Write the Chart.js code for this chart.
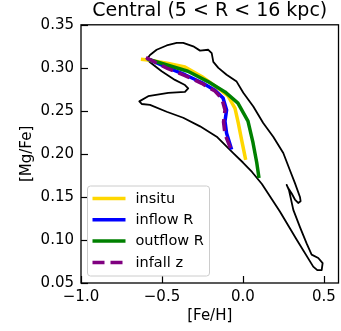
<!DOCTYPE html>
<html>
<head>
<meta charset="utf-8">
<script src="https://cdn.jsdelivr.net/npm/chart.js@4/dist/chart.umd.min.js"></script>
<style>
  body { margin: 0; background: #fff; }
  canvas { display: block; }
</style>
</head>
<body>
<canvas id="myChart" width="341" height="331"></canvas>
<script>
// density contour (black outline)
const contourFeH = [-0.594, -0.574, -0.533, -0.471, -0.409, -0.369, -0.307, -0.265, -0.214, -0.193,
  -0.183, -0.152, -0.101, -0.039, 0.002, 0.064, 0.125, 0.187, 0.249, 0.290,
  0.321, 0.352, 0.356, 0.341, 0.321, 0.301, 0.280, 0.270, 0.284, 0.311,
  0.352, 0.393, 0.424, 0.465, 0.492, 0.486, 0.459, 0.434, 0.333, 0.228,
  0.117, 0.056, 0.000, -0.060, -0.162, -0.265, -0.369, -0.471, -0.574, -0.625,
  -0.640, -0.585, -0.461, -0.358, -0.338, -0.358, -0.420, -0.502, -0.564, -0.594];
const contourMgFe = [0.310, 0.315, 0.321, 0.326, 0.329, 0.329, 0.325, 0.320, 0.321, 0.317,
  0.307, 0.300, 0.292, 0.284, 0.271, 0.255, 0.236, 0.220, 0.201, 0.181,
  0.166, 0.150, 0.145, 0.143, 0.147, 0.154, 0.160, 0.164, 0.158, 0.135,
  0.115, 0.096, 0.083, 0.079, 0.073, 0.065, 0.065, 0.069, 0.100, 0.133,
  0.165, 0.179, 0.190, 0.201, 0.220, 0.232, 0.242, 0.249, 0.257, 0.258,
  0.261, 0.267, 0.271, 0.272, 0.276, 0.280, 0.286, 0.296, 0.305, 0.310];

// model tracks
const insituFeH = [-0.630, -0.585, -0.461, -0.358, -0.255, -0.152, -0.091, -0.049, -0.029, -0.008, 0.017];
const insituMgFe = [0.310, 0.309, 0.305, 0.301, 0.290, 0.276, 0.267, 0.253, 0.236, 0.216, 0.193];
const inflowFeH = [-0.594, -0.463, -0.358, -0.255, -0.173, -0.123, -0.101, -0.111, -0.101, -0.070];
const inflowMgFe = [0.311, 0.300, 0.292, 0.283, 0.274, 0.265, 0.251, 0.238, 0.224, 0.205];
const outflowFeH = [-0.586, -0.463, -0.340, -0.216, -0.111, -0.031, 0.031, 0.062, 0.085, 0.099];
const outflowMgFe = [0.310, 0.303, 0.296, 0.284, 0.272, 0.259, 0.238, 0.213, 0.190, 0.172];
const infallFeH = [-0.599, -0.463, -0.358, -0.255, -0.173, -0.130, -0.111, -0.120, -0.111, -0.074];
const infallMgFe = [0.312, 0.299, 0.291, 0.282, 0.273, 0.264, 0.251, 0.237, 0.223, 0.205];

const seriesLabels = ['insitu', 'inflow R', 'outflow R', 'infall z'];
const seriesColors = ['#FFD700', '#0000FF', '#008000', '#800080'];

const xTicks = [-1.0, -0.5, 0.0, 0.5];
const yTicks = [0.05, 0.10, 0.15, 0.20, 0.25, 0.30, 0.35];

function pts(xs, ys) {
  return xs.map((x, i) => ({ x: x, y: ys[i] }));
}

const FONT = 'DejaVu Sans';

// inward ticks + box spines, matplotlib style
const framePlugin = {
  id: 'frame',
  afterDatasetsDraw(chart) {
    const ctx = chart.ctx;
    const a = chart.chartArea;
    const xs = chart.scales.x, ys = chart.scales.y;
    ctx.save();
    ctx.strokeStyle = '#000';
    ctx.lineWidth = 1.2;
    xTicks.forEach(v => {
      const px = Math.round(xs.getPixelForValue(v)) + 0.5;
      ctx.beginPath(); ctx.moveTo(px, a.bottom); ctx.lineTo(px, a.bottom - 7); ctx.stroke();
    });
    yTicks.forEach(v => {
      const py = Math.round(ys.getPixelForValue(v)) + 0.5;
      ctx.beginPath(); ctx.moveTo(a.left, py); ctx.lineTo(a.left + 7, py); ctx.stroke();
    });
    ctx.lineWidth = 1.3;
    ctx.strokeRect(a.left, a.top, a.right - a.left, a.bottom - a.top);
    ctx.restore();
  }
};

// legend box in lower left of the axes
const legendPlugin = {
  id: 'boxLegend',
  afterDraw(chart) {
    const ctx = chart.ctx;
    const a = chart.chartArea;
    const bx = a.left + 6.5, by = 186, bw = 122, bh = 90, r = 3;
    ctx.save();
    ctx.beginPath();
    ctx.roundRect(bx, by, bw, bh, r);
    ctx.fillStyle = 'rgba(255,255,255,0.8)';
    ctx.fill();
    ctx.strokeStyle = '#cccccc';
    ctx.lineWidth = 1;
    ctx.stroke();
    ctx.font = '14.5px "' + FONT + '"';
    ctx.textBaseline = 'middle';
    ctx.fillStyle = '#000';
    chart.data.datasets.slice(1).forEach((ds, i) => {
      const y = by + 12.5 + i * 21.3;
      ctx.beginPath();
      ctx.setLineDash(ds.borderDash || []);
      ctx.strokeStyle = ds.borderColor;
      ctx.lineWidth = ds.borderWidth;
      ctx.moveTo(bx + 5, y);
      ctx.lineTo(bx + 38, y);
      ctx.stroke();
      ctx.setLineDash([]);
      ctx.fillText(ds.label, bx + 48, y + 0.5);
    });
    ctx.restore();
  }
};

const trackData = [
  pts(insituFeH, insituMgFe),
  pts(inflowFeH, inflowMgFe),
  pts(outflowFeH, outflowMgFe),
  pts(infallFeH, infallMgFe)
];

const datasets = [{
  label: 'contour',
  data: pts(contourFeH, contourMgFe),
  borderColor: '#000',
  borderWidth: 1.8,
  order: 10
}];
seriesLabels.forEach((lab, i) => {
  datasets.push({
    label: lab,
    data: trackData[i],
    borderColor: seriesColors[i],
    borderWidth: 3.5,
    borderDash: i === 3 ? [12, 6] : undefined,
    order: 5 - i
  });
});

const fmt = v => {
  const s = v.toFixed(1);
  return s.replace('-', '\u2212');
};

new Chart(document.getElementById('myChart').getContext('2d'), {
  type: 'scatter',
  data: { datasets: datasets },
  options: {
    responsive: false,
    animation: false,
    devicePixelRatio: 1,
    showLine: true,
    elements: {
      point: { radius: 0, hoverRadius: 0 },
      line: { tension: 0, fill: false, borderCapStyle: 'butt', borderJoinStyle: 'round' }
    },
    layout: { padding: { top: 0, right: 2, left: 0, bottom: 0 } },
    scales: {
      x: {
        type: 'linear',
        min: -1.0,
        max: 0.59,
        afterBuildTicks: s => { s.ticks = xTicks.map(v => ({ value: v })); },
        afterFit: s => { s.height = 48; },
        grid: { display: false, drawTicks: false },
        border: { display: false },
        ticks: {
          color: '#000',
          padding: 5,
          maxRotation: 0,
          font: { family: FONT, size: 15 },
          callback: v => fmt(v)
        },
        title: {
          display: true,
          text: '[Fe/H]',
          color: '#000',
          font: { family: FONT, size: 15 },
          padding: { top: 0, bottom: 6 }
        }
      },
      y: {
        type: 'linear',
        min: 0.05,
        max: 0.35,
        afterBuildTicks: s => { s.ticks = yTicks.map(v => ({ value: v })); },
        afterFit: s => { s.width = 81; },
        grid: { display: false, drawTicks: false },
        border: { display: false },
        ticks: {
          color: '#000',
          padding: 7,
          font: { family: FONT, size: 15 },
          callback: v => v.toFixed(2)
        },
        title: {
          display: true,
          text: '[Mg/Fe]',
          color: '#000',
          font: { family: FONT, size: 15 },
          padding: { top: 18, bottom: 0 }
        }
      }
    },
    plugins: {
      legend: { display: false },
      tooltip: { enabled: false },
      title: {
        display: true,
        text: 'Central (5 < R < 16 kpc)',
        color: '#000',
        fullSize: false,
        font: { family: FONT, size: 19, weight: 'normal' },
        padding: { top: 0, bottom: 2 }
      }
    }
  },
  plugins: [framePlugin, legendPlugin]
});
</script>
</body>
</html>
